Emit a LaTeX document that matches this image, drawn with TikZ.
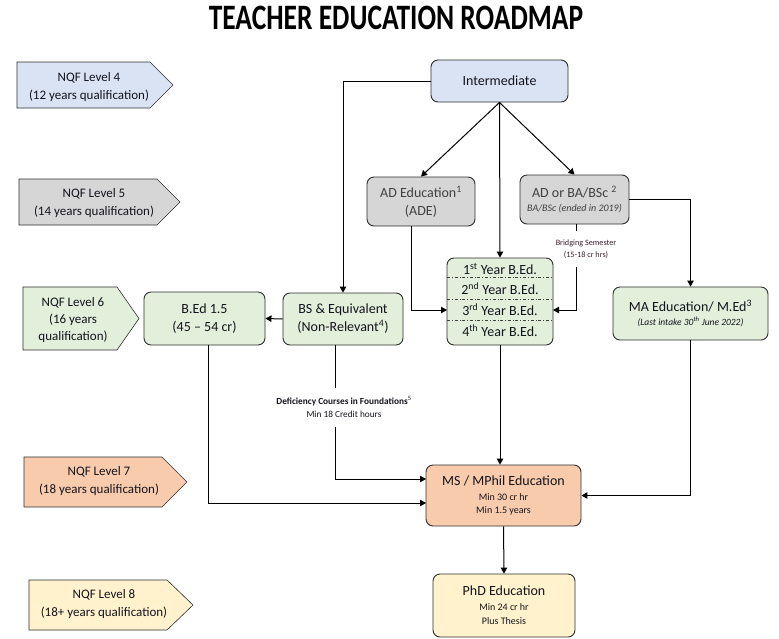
\documentclass[tikz,border=0pt]{standalone}
\usepackage{fontspec}
\setmainfont{Carlito}
\usetikzlibrary{arrows.meta}
\definecolor{cblue}{HTML}{DAE3F3}
\definecolor{cgray}{HTML}{D6D6D6}
\definecolor{cgreen}{HTML}{E2EFDA}
\definecolor{corange}{HTML}{F8CBAD}
\definecolor{cyellow}{HTML}{FFF2CC}
\definecolor{bordercol}{HTML}{2E2E2E}
\definecolor{textcol}{HTML}{14141E}
\definecolor{graytext}{HTML}{404040}
\definecolor{bridgecol}{HTML}{3A1E2E}
\tikzset{
  box/.style={draw=bordercol, line width=0.9pt, rounded corners=7pt, align=center, inner sep=0pt, text=textcol},
  arr/.style={-{Triangle[length=6pt,width=6.5pt]}, line width=1pt},
  nqf/.style={draw=bordercol, line width=0.6pt},
  nqftext/.style={align=center, font=\fontsize{13}{18}\selectfont, text=textcol, inner sep=0pt},
  yeartext/.style={font=\fontsize{14}{17}\selectfont, text=textcol, inner sep=0pt},
  note/.style={fill=white, align=center, inner sep=0pt}
}
\begin{document}
\begin{tikzpicture}[x=1pt,y=-1pt]
\useasboundingbox (0,0) rectangle (779,638);
% title
\node (title) at (396,18) {\scalebox{1}[1.3]{\fontsize{27.5}{30}\selectfont\bfseries TEACHER EDUCATION ROADMAP}};
% NQF level arrows
\filldraw[nqf, fill=cblue] (17,62) -- (150,62) -- (173,85) -- (150,108) -- (17,108) -- cycle;
\node[nqftext] (l4) at (89,87) {NQF Level 4\\(12 years qualification)};
\filldraw[nqf, fill=cgray] (19,179) -- (157,179) -- (180,202) -- (157,225) -- (19,225) -- cycle;
\node[nqftext] (l5) at (94,203) {NQF Level 5\\(14 years qualification)};
\filldraw[nqf, fill=cgreen] (23,287) -- (117,287) -- (139,318.5) -- (117,350) -- (23,350) -- cycle;
\node[nqftext, font=\fontsize{13}{17}\selectfont] (l6) at (73,320) {NQF Level 6\\(16 years\\qualification)};
\filldraw[nqf, fill=corange] (24,457) -- (162,457) -- (187,482) -- (162,507) -- (24,507) -- cycle;
\node[nqftext] (l7) at (99,481) {NQF Level 7\\(18 years qualification)};
\filldraw[nqf, fill=cyellow] (29,580) -- (167,580) -- (193,605) -- (167,630) -- (29,630) -- cycle;
\node[nqftext] (l8) at (104,604) {NQF Level 8\\(18+ years qualification)};
% boxes
\node[box, fill=cblue, minimum width=137, minimum height=42, font=\fontsize{14}{17}\selectfont] (int) at (499.5,81) {Intermediate};
\node[box, fill=cgray, minimum width=108, minimum height=49, text=graytext, font=\fontsize{14}{18}\selectfont] (adedu) at (421,201.5) {AD Education\textsuperscript{1}\\(ADE)};
\node[box, fill=cgray, minimum width=109, minimum height=49, text=graytext, font=\fontsize{10}{13}\selectfont] (adba) at (574.5,199.5) {{\fontsize{14}{17}\selectfont AD or BA/BSc \textsuperscript{2}}\\[1pt]\itshape BA/BSc (ended in 2019)};
\node[box, fill=cgreen, minimum width=106, minimum height=87] (bedbox) at (500,301.5) {};
\draw[graytext, line width=0.6pt, dash dot] (447,277) -- (553,277);
\draw[graytext, line width=0.6pt, dash dot] (447,299) -- (553,299);
\draw[graytext, line width=0.6pt, dash dot] (447,320) -- (553,320);
\node[yeartext] (y1) at (500,269) {1\textsuperscript{st} Year B.Ed.};
\node[yeartext] (y2) at (500,289) {2\textsuperscript{nd} Year B.Ed.};
\node[yeartext] (y3) at (500,310) {3\textsuperscript{rd} Year B.Ed.};
\node[yeartext] (y4) at (500,331) {4\textsuperscript{th} Year B.Ed.};
\node[box, fill=cgreen, minimum width=120, minimum height=52, font=\fontsize{14}{18}\selectfont] (bs) at (343,319) {BS \& Equivalent\\(Non-Relevant\textsuperscript{4})};
\node[box, fill=cgreen, minimum width=121, minimum height=53, font=\fontsize{14}{18}\selectfont] (bed15) at (204.5,318.5) {B.Ed 1.5\\(45 -- 54 cr)};
\node[box, fill=cgreen, minimum width=155, minimum height=53, font=\fontsize{9.5}{12}\selectfont] (ma) at (690.5,313.5) {{\fontsize{14}{17}\selectfont MA Education/ M.Ed\textsuperscript{3}}\\[2pt]\itshape (Last intake 30\textsuperscript{th} June 2022)};
\node[box, fill=corange, minimum width=155, minimum height=61, font=\fontsize{10}{13}\selectfont] (ms) at (503.5,495.5) {{\fontsize{14}{17}\selectfont MS / MPhil Education}\\[2pt]Min 30 cr hr\\Min 1.5 years};
\node[box, fill=cyellow, minimum width=142, minimum height=63, font=\fontsize{10}{14}\selectfont] (phd) at (504,605.5) {{\fontsize{14}{17}\selectfont PhD Education}\\[1pt]Min 24 cr hr\\Plus Thesis};
% helper coordinates
\coordinate (e3l) at (447,310);
\coordinate (e3r) at (553,310);
\coordinate (msl1) at (426,479);
\coordinate (msl2) at (426,503);
% connectors
\draw[arr] (int.west) -| (bs.north);
\draw[arr] (int.south) -- (adedu.north);
\draw[arr] (int.south) -- (adba.north);
\draw[arr] (int.south) -- (bedbox.north);
\draw[arr] ([xshift=-10pt]adedu.south) |- (e3l);
\draw[arr] ([xshift=2pt]adba.south) |- (e3r);
\draw[arr] (adba.east) -| (ma.north);
\draw[arr] (bs.west) -- (bed15.east);
\draw[arr] ([xshift=-8pt]bs.south) |- (msl1);
\draw[arr] ([xshift=3.5pt]bed15.south) |- (msl2);
\draw[arr] (bedbox.south) -- (bedbox.south |- ms.north);
\draw[arr] (ma.south) |- (ms.east);
\draw[arr] (ms.south) -- (phd.north);
% labels on connectors
\node[note, minimum height=36, minimum width=64, text=bridgecol, font=\fontsize{8.2}{12}\selectfont] (bridge) at (586,249) {Bridging Semester\\(15-18 cr hrs)};
\node[note, minimum height=39, minimum width=142, text=textcol, font=\fontsize{9.3}{13}\selectfont] (defic) at (344,407) {\textbf{Deficiency Courses in Foundations}\textsuperscript{5}\\Min 18 Credit hours};
\end{tikzpicture}
\end{document}
